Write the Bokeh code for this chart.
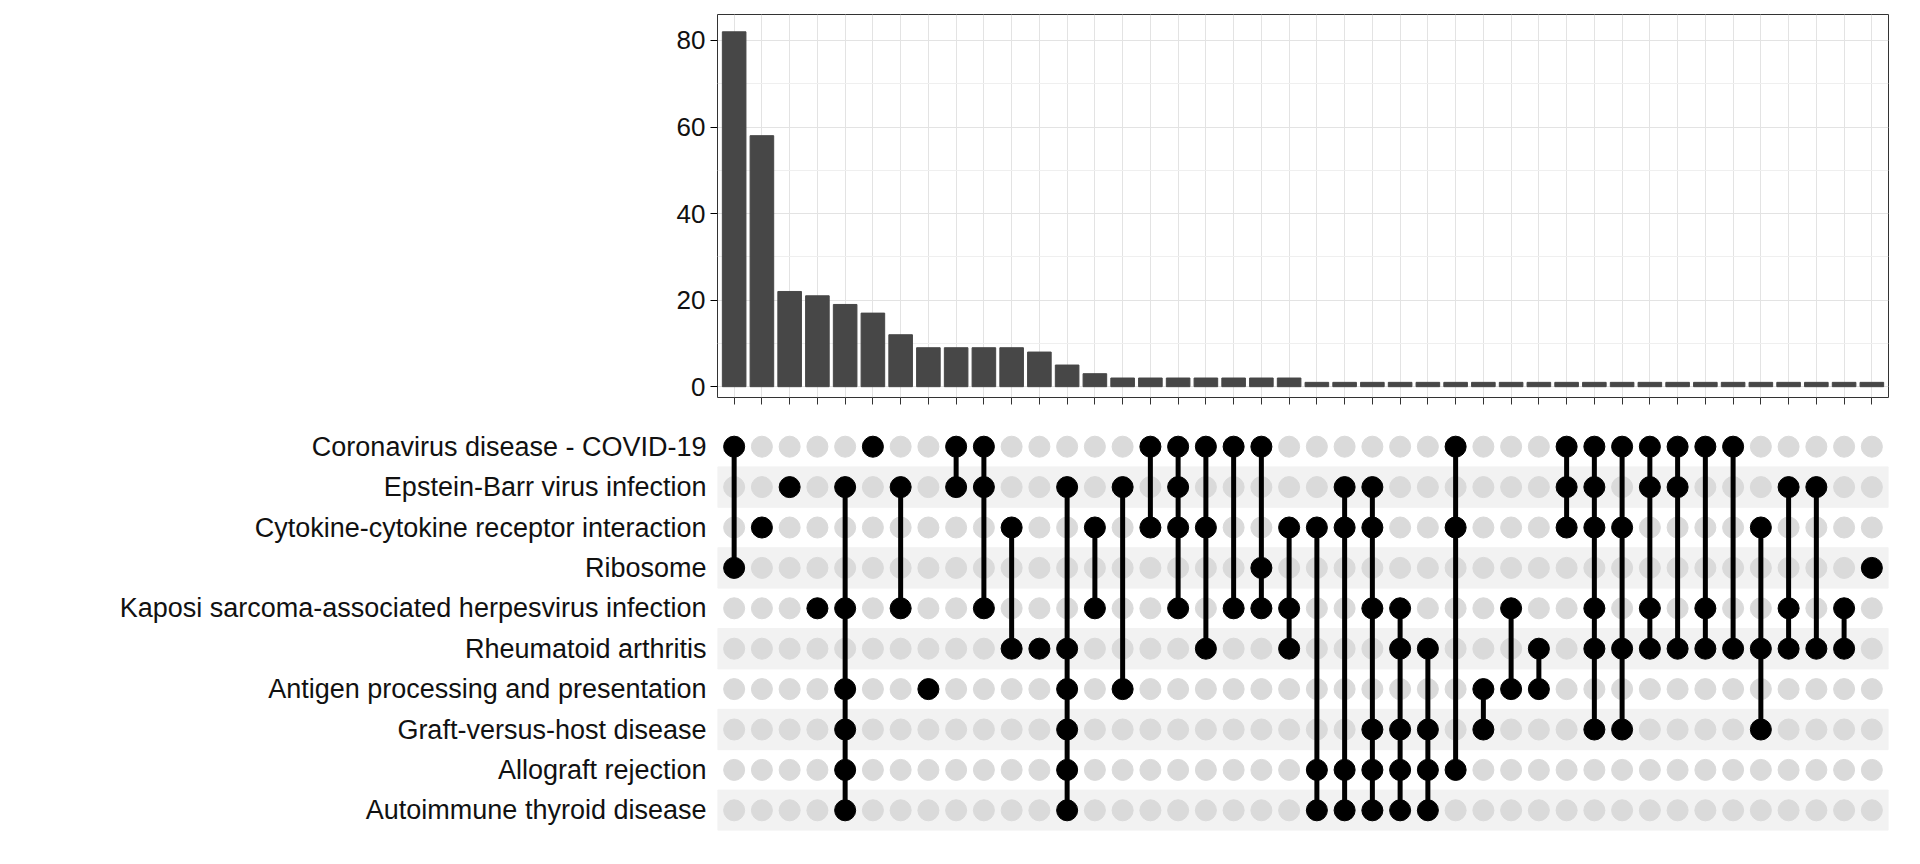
from bokeh.plotting import figure
from bokeh.layouts import column
from bokeh.models import FixedTicker
from bokeh.embed import file_html
from bokeh.resources import INLINE

sets = ["Coronavirus disease - COVID-19", "Epstein-Barr virus infection",
        "Cytokine-cytokine receptor interaction", "Ribosome",
        "Kaposi sarcoma-associated herpesvirus infection", "Rheumatoid arthritis",
        "Antigen processing and presentation", "Graft-versus-host disease",
        "Allograft rejection", "Autoimmune thyroid disease"]
C, E, K, R, H, A, P, G, L, T = range(10)

sizes = [82, 58, 22, 21, 19, 17, 12, 9, 9, 9, 9, 8, 5, 3, 2, 2, 2, 2, 2, 2, 2] + [1] * 21
members = [
    [C, R], [K], [E], [H], [E, H, P, G, L, T], [C], [E, H], [P], [C, E], [C, E, H],
    [K, A], [A], [E, A, P, G, L, T], [K, H], [E, P], [C, K], [C, E, K, H], [C, K, A],
    [C, H], [C, R, H], [K, H, A], [K, L, T], [E, K, L, T], [E, K, H, G, L, T],
    [H, A, G, L, T], [A, G, L, T], [C, K, L], [P, G], [H, P], [A, P], [C, E, K],
    [C, E, K, H, A, G], [C, K, A, G], [C, E, H, A], [C, E, A], [C, H, A], [C, A],
    [K, A, G], [E, H, A], [E, A], [H, A], [R],
]

n = len(sizes)
xs = list(range(1, n + 1))
W, LB, RB = 1904, 717, 16

top = figure(width=W, height=424, x_range=(0.4, n + 0.6), y_range=(-2.5, 86),
             output_backend="svg", toolbar_location=None,
             min_border_left=LB, min_border_right=RB, min_border_top=14, min_border_bottom=12)
top.vbar(x=xs, top=sizes, width=0.85, color="#474747")
top.xaxis.ticker = FixedTicker(ticks=xs)
top.xaxis.major_label_overrides = {x: " " for x in xs}
top.xaxis.major_tick_line_color = "#333333"
top.xaxis.major_tick_out = 7
top.xaxis.major_tick_in = 0
top.xaxis.axis_line_color = None
top.yaxis.ticker = FixedTicker(ticks=[0, 20, 40, 60, 80], minor_ticks=[10, 30, 50, 70])
top.yaxis.axis_line_color = None
top.yaxis.minor_tick_line_color = None
top.yaxis.major_tick_out = 7
top.yaxis.major_tick_in = 0
top.yaxis.major_label_text_font = "Liberation Sans"
top.yaxis.major_label_text_font_size = "26px"
top.yaxis.major_label_text_color = "#111111"
top.xgrid.grid_line_color = "#e3e3e3"
top.ygrid.grid_line_color = "#e3e3e3"
top.ygrid.minor_grid_line_color = "#efefef"
top.outline_line_color = "#333333"

rows = list(reversed(sets))
bot = figure(width=W, height=424, x_range=(0.4, n + 0.6), y_range=rows,
             output_backend="svg", toolbar_location=None,
             min_border_left=LB, min_border_right=RB, min_border_top=2, min_border_bottom=18)
stripe = [s for i, s in enumerate(sets) if i % 2 == 1]
bot.hbar(y=stripe, left=0.4, right=n + 0.6, height=1, color="#f2f2f2")
gx, gy = [], []
for x in xs:
    for s in sets:
        gx.append(x)
        gy.append(s)
bot.scatter(gx, gy, size=21, color="#dadada")
sx, sy0, sy1 = [], [], []
for x, m in zip(xs, members):
    if len(m) > 1:
        sx.append(x)
        sy0.append(sets[min(m)])
        sy1.append(sets[max(m)])
bot.segment(x0=sx, x1=sx, y0=sy0, y1=sy1, line_width=5, color="black")
for x, m in zip(xs, members):
    bot.scatter([x] * len(m), [sets[i] for i in m], size=21, color="black")
bot.xaxis.visible = False
bot.xgrid.grid_line_color = None
bot.ygrid.grid_line_color = None
bot.yaxis.axis_line_color = None
bot.yaxis.major_tick_line_color = None
bot.yaxis.major_label_text_font = "Liberation Sans"
bot.yaxis.major_label_text_font_size = "27px"
bot.yaxis.major_label_text_color = "#111111"
bot.outline_line_color = None

page = column(top, bot, spacing=0)
open("out.html", "w").write(file_html(page, INLINE))
